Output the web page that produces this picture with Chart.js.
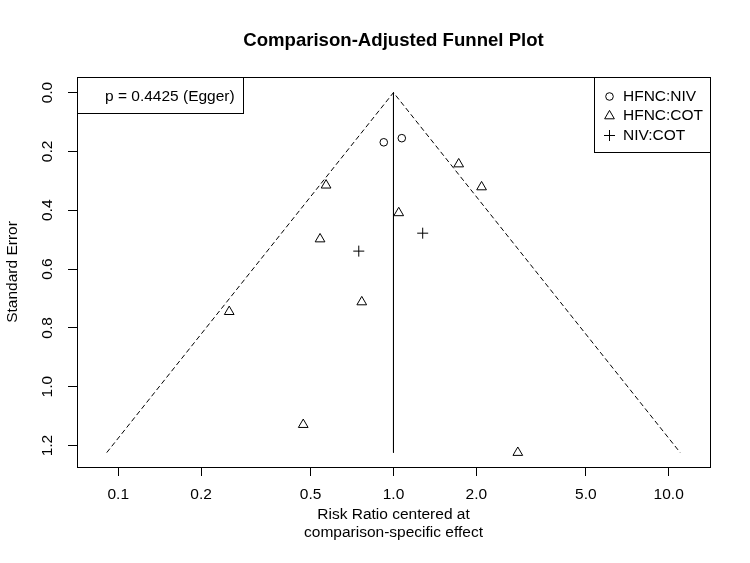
<!DOCTYPE html>
<html>
<head>
<meta charset="utf-8">
<title>Comparison-Adjusted Funnel Plot</title>
<script src="https://cdn.jsdelivr.net/npm/chart.js@4.4.1/dist/chart.umd.min.js"></script>
<style>
  html, body { margin: 0; padding: 0; background: #fff; }
  canvas { display: block; }
</style>
</head>
<body>
<canvas id="funnel" width="750" height="563"></canvas>
<script>
const FONT = '"Liberation Sans", Arial, Helvetica, sans-serif';

// risk ratio (centered at comparison effect) and standard error per study
const hfncNivRR = [0.922, 1.072];
const hfncNivSE = [0.169, 0.155];
const hfncCotRR = [0.569, 1.726, 2.09, 1.045, 0.541, 0.767, 0.253, 0.470, 2.83];
const hfncCotSE = [0.315, 0.243, 0.321, 0.409, 0.498, 0.712, 0.745, 1.129, 1.224];
const nivCotRR = [1.277, 0.748];
const nivCotSE = [0.478, 0.539];

// pseudo 95% limits (end points) and centre line
const funnelRR = [0.0908, 1, 11.01];
const funnelSE = [1.224, 0, 1.224];
const centerRR = [1, 1];
const centerSE = [0, 1.224];

const xTicks = [0.1, 0.2, 0.5, 1, 2, 5, 10];
const yTicks = [0, 0.2, 0.4, 0.6, 0.8, 1.0, 1.2];

const seriesNames = ["HFNC:NIV", "HFNC:COT", "NIV:COT"];
const seriesStyles = ["circle", "triangle", "cross"];
const seriesRadius = [3.8, 5.6, 5.5];
const eggerText = "p = 0.4425 (Egger)";

const pts = (xs, ys) => xs.map((x, i) => ({ x, y: ys[i] }));

const symbolSet = (i, xs, ys) => ({
  label: seriesNames[i],
  data: pts(xs, ys),
  pointStyle: seriesStyles[i],
  pointRadius: seriesRadius[i],
  pointBorderWidth: 1,
  pointBorderColor: "#000",
  pointBackgroundColor: "rgba(0,0,0,0)",
  showLine: false,
});

const boxes = {
  id: "boxes",
  afterDatasetsDraw(chart) {
    const { ctx, chartArea: a, scales } = chart;
    ctx.save();
    ctx.strokeStyle = "#000";
    ctx.fillStyle = "#000";
    ctx.lineWidth = 1;

    // y tick labels, parallel to the axis as in R
    ctx.font = `15.5px ${FONT}`;
    ctx.textAlign = "center";
    ctx.textBaseline = "middle";
    for (const t of scales.y.ticks) {
      const py = scales.y.getPixelForValue(t.value);
      ctx.save();
      ctx.translate(48, py);
      ctx.rotate(-Math.PI / 2);
      ctx.fillText(t.value.toFixed(1), 0, 0);
      ctx.restore();
    }

    const L = Math.round(a.left), T = Math.round(a.top);
    const R = Math.round(a.right), B = Math.round(a.bottom);

    // Egger box
    ctx.fillStyle = "#fff";
    ctx.fillRect(L, T, 166, 36);
    ctx.strokeRect(L + 0.5, T + 0.5, 166, 36);
    ctx.fillStyle = "#000";
    ctx.textAlign = "left";
    ctx.fillText(eggerText, 105, 97);

    // legend
    const lx = 594;
    ctx.fillStyle = "#fff";
    ctx.fillRect(lx, T, R - lx, 75);
    ctx.strokeRect(lx + 0.5, T + 0.5, R - lx, 75);
    const rows = [96.5, 116, 135.5];
    seriesNames.forEach((name, i) => {
      ctx.fillStyle = "rgba(0,0,0,0)";
      Chart.helpers.drawPoint(ctx, { pointStyle: seriesStyles[i], radius: seriesRadius[i], borderWidth: 1, rotation: 0 }, 609.5, rows[i]);
      ctx.fillStyle = "#000";
      ctx.fillText(name, 623, rows[i]);
    });

    // plot frame
    ctx.strokeRect(L + 0.5, T + 0.5, R - L, B - T);
    ctx.restore();
  },
};

new Chart(document.getElementById("funnel"), {
  type: "scatter",
  data: {
    datasets: [
      {
        label: "funnel",
        data: pts(funnelRR, funnelSE),
        showLine: true,
        borderColor: "#000",
        borderWidth: 1,
        borderDash: [5, 3],
        pointRadius: 0,
        tension: 0,
      },
      {
        label: "centre",
        data: pts(centerRR, centerSE),
        showLine: true,
        borderColor: "#000",
        borderWidth: 1,
        pointRadius: 0,
      },
      symbolSet(0, hfncNivRR, hfncNivSE),
      symbolSet(1, hfncCotRR, hfncCotSE),
      symbolSet(2, nivCotRR, nivCotSE),
    ],
  },
  options: {
    responsive: false,
    animation: false,
    events: [],
    layout: { padding: { top: 0, left: 0, right: 40, bottom: 0 } },
    plugins: {
      legend: { display: false },
      tooltip: { enabled: false },
      title: {
        display: true,
        fullSize: false,
        text: "Comparison-Adjusted Funnel Plot",
        color: "#000",
        font: { family: FONT, size: 18.6, weight: "bold", lineHeight: 1.2 },
        padding: { top: 30, bottom: 24.68 },
      },
    },
    scales: {
      x: {
        type: "logarithmic",
        min: 0.0708,
        max: 14.13,
        afterBuildTicks: (s) => { s.ticks = xTicks.map((v) => ({ value: v })); },
        afterFit: (s) => { s.height = 96; },
        ticks: {
          color: "#000",
          font: { family: FONT, size: 15.5 },
          padding: 9,
          autoSkip: false,
          maxRotation: 0,
          callback: (v) => Number(v).toFixed(1),
        },
        grid: { drawOnChartArea: false, drawTicks: true, tickLength: 9, color: "#000" },
        border: { display: true, color: "#000" },
        title: {
          display: true,
          text: ["Risk Ratio centered at", "comparison-specific effect"],
          color: "#000",
          font: { family: FONT, size: 15.5, lineHeight: 1.2 },
          padding: { top: 0, bottom: 20.7 },
        },
      },
      y: {
        type: "linear",
        reverse: true,
        min: -0.053,
        max: 1.273,
        afterBuildTicks: (s) => { s.ticks = yTicks.map((v) => ({ value: v })); },
        afterFit: (s) => { s.width = 77; },
        ticks: { display: false },
        grid: { drawOnChartArea: false, drawTicks: true, tickLength: 9, color: "#000" },
        border: { display: true, color: "#000" },
        title: {
          display: true,
          text: "Standard Error",
          color: "#000",
          font: { family: FONT, size: 15.5, lineHeight: 1.2 },
          padding: { top: 3.7, bottom: 0 },
        },
      },
    },
  },
  plugins: [boxes],
});
</script>
</body>
</html>
